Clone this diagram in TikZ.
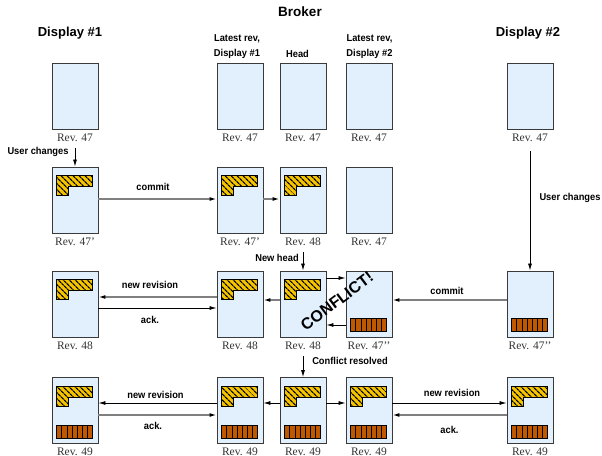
\documentclass[tikz,border=0pt]{standalone}
\usepackage{fontspec}
\setmainfont{Liberation Serif}
\setsansfont{Liberation Sans}
\newfontfamily\narrowsf[FakeStretch=0.93]{Liberation Sans}
\usetikzlibrary{arrows.meta,patterns.meta}

\definecolor{boxfill}{HTML}{E2EFFC}
\definecolor{boxline}{HTML}{3A3A3A}
\definecolor{hatchyellow}{HTML}{F5C400}
\definecolor{barorange}{HTML}{C05800}
\definecolor{linegray}{HTML}{808080}
\definecolor{revgray}{HTML}{333333}

\newcommand\lmark[1]{\begin{scope}[shift={(#1.north west)}]
  \draw[hatch] (5,9) -- (41,9) -- (41,20) -- (17,20) -- (17,29) -- (5,29) -- cycle;
\end{scope}}
\newcommand\orangebar[1]{\begin{scope}[shift={(#1.north west)}]
  \fill[barorange] (5,48) rectangle (41,61);
  \foreach \k in {1,...,6} \draw[black, line width=0.6pt] ({5+\k*36/7},48) -- ({5+\k*36/7},61);
  \draw[black, line width=0.7pt] (5,48) rectangle (41,61);
\end{scope}}

\begin{document}
\begin{tikzpicture}[x=1pt,y=-1pt,
  docbox/.style={draw=boxline, line width=0.9pt, fill=boxfill, minimum width=46pt, minimum height=66pt, inner sep=0pt},
  revlabel/.style={font=\fontsize{11.5}{12}\selectfont, text=revgray, anchor=base, inner sep=0pt},
  heading/.style={font=\sffamily\bfseries\fontsize{13}{15}\selectfont, anchor=base, inner sep=0pt},
  smalllabel/.style={font=\narrowsf\bfseries\fontsize{10}{15}\selectfont, anchor=base, inner sep=0pt, align=center},
  tip/.style={-{Latex[length=7pt,width=4pt,color=black]}},
  blackarrow/.style={tip, draw=black, line width=0.8pt},
  grayarrow/.style={tip, draw=linegray, line width=1.3pt},
  hatch/.style={draw=black, line width=0.6pt, preaction={fill=hatchyellow}, pattern={Lines[angle=-45,distance=4pt,line width=1.2pt]}},
]
\useasboundingbox (0,0) rectangle (602,455);

% headings
\node[heading, font=\sffamily\bfseries\fontsize{13.5}{15}\selectfont] (broker) at (300,16.7) {Broker};
\node[heading] (disp1) at (70,36) {Display \#1};
\node[heading] (disp2) at (528,36) {Display \#2};
\node[smalllabel, anchor=center] (lat1) at (237,47) {Latest rev,\\Display \#1};
\node[smalllabel] (headlbl) at (297.5,57) {Head};
\node[smalllabel, anchor=center] (lat2) at (369.5,47) {Latest rev,\\Display \#2};

% row 1
\node[docbox] (b11) at (75,96) {};
\node[docbox] (b12) at (240,96) {};
\node[docbox] (b13) at (303,96) {};
\node[docbox] (b14) at (369,96) {};
\node[docbox] (b15) at (530,96) {};
\node[revlabel] (l11) at ([yshift=-12pt]b11.south) {Rev. 47};
\node[revlabel] (l12) at ([yshift=-12pt]b12.south) {Rev. 47};
\node[revlabel] (l13) at ([yshift=-12pt]b13.south) {Rev. 47};
\node[revlabel] (l14) at ([yshift=-12pt]b14.south) {Rev. 47};
\node[revlabel] (l15) at ([yshift=-12pt]b15.south) {Rev. 47};

% row 2
\node[docbox] (b21) at (75,200) {};
\node[docbox] (b22) at (240,200) {};
\node[docbox] (b23) at (303,200) {};
\node[docbox] (b24) at (369,200) {};
\node[revlabel] (l21) at ([yshift=-12pt]b21.south) {Rev. 47'};
\node[revlabel] (l22) at ([yshift=-12pt]b22.south) {Rev. 47'};
\node[revlabel] (l23) at ([yshift=-12pt]b23.south) {Rev. 48};
\node[revlabel] (l24) at ([yshift=-12pt]b24.south) {Rev. 47};
\lmark{b21}\lmark{b22}\lmark{b23}

% row 3
\node[docbox] (b31) at (75,304) {};
\node[docbox] (b32) at (240,304) {};
\node[docbox] (b33) at (303,304) {};
\node[docbox] (b34) at (369,304) {};
\node[docbox] (b35) at (530,304) {};
\node[revlabel] (l31) at ([yshift=-12pt]b31.south) {Rev. 48};
\node[revlabel] (l32) at ([yshift=-12pt]b32.south) {Rev. 48};
\node[revlabel] (l33) at ([yshift=-12pt]b33.south) {Rev. 48};
\node[revlabel] (l34) at ([yshift=-12pt]b34.south) {Rev. 47'{}'};
\node[revlabel] (l35) at ([yshift=-12pt]b35.south) {Rev. 47'{}'};
\lmark{b31}\lmark{b32}\lmark{b33}
\orangebar{b34}\orangebar{b35}

% row 4
\node[docbox] (b41) at (75,410.5) {};
\node[docbox] (b42) at (240,410.5) {};
\node[docbox] (b43) at (303,410.5) {};
\node[docbox] (b44) at (369,410.5) {};
\node[docbox] (b45) at (530,410.5) {};
\node[revlabel] (l41) at ([yshift=-12pt]b41.south) {Rev. 49};
\node[revlabel] (l42) at ([yshift=-12pt]b42.south) {Rev. 49};
\node[revlabel] (l43) at ([yshift=-12pt]b43.south) {Rev. 49};
\node[revlabel] (l44) at ([yshift=-12pt]b44.south) {Rev. 49};
\node[revlabel] (l45) at ([yshift=-12pt]b45.south) {Rev. 49};
\lmark{b41}\lmark{b42}\lmark{b43}\lmark{b44}\lmark{b45}
\orangebar{b41}\orangebar{b42}\orangebar{b43}\orangebar{b44}\orangebar{b45}

% vertical arrows
\draw[blackarrow] ([yshift=-6pt]l11.south) -- (b21.north);
\node[smalllabel] (uc1) at (38,154.5) {User changes};
\draw[blackarrow] ([yshift=-9pt]l15.south) -- (b35.north);
\node[smalllabel] (uc2) at (570,200.6) {User changes};
\draw[blackarrow] ([yshift=-6.5pt]l23.south) -- (b33.north);
\node[smalllabel] (nh) at (277,261.5) {New head};
\draw[blackarrow] ([yshift=-6.5pt]l33.south) -- (b43.north);
\node[smalllabel] (cr) at (350,364.5) {Conflict resolved};

% row 2 arrows
\draw[grayarrow] ([yshift=1pt]b21.east) -- ([yshift=1pt]b22.west);
\node[smalllabel] (cm1) at (153,190) {commit};
\draw[grayarrow] ([yshift=1pt]b22.east) -- ([yshift=1pt]b23.west);

% row 3 arrows
\draw[grayarrow] ([yshift=7pt]b32.west) -- ([yshift=7pt]b31.east);
\node[smalllabel] (nr1) at (150,288) {new revision};
\draw[blackarrow] ([yshift=-4pt]b31.east) -- ([yshift=-4pt]b32.west);
\node[smalllabel] (ak1) at (150,323) {ack.};
\draw[grayarrow] ([yshift=4pt]b33.west) -- ([yshift=4pt]b32.east);
\draw[blackarrow] ([yshift=26pt]b33.east) -- ([yshift=26pt]b34.west);
\draw[blackarrow] ([yshift=-21pt]b34.west) -- ([yshift=-21pt]b33.east);
\draw[grayarrow] ([yshift=4pt]b35.west) -- ([yshift=4pt]b34.east);
\node[smalllabel] (cm2) at (447,294) {commit};

% row 4 arrows
\draw[blackarrow] ([yshift=7.5pt]b42.west) -- ([yshift=7.5pt]b41.east);
\node[smalllabel] (nr2) at (155.5,398) {new revision};
\draw[grayarrow] ([yshift=-4.5pt]b41.east) -- ([yshift=-4.5pt]b42.west);
\node[smalllabel] (ak2) at (153,429) {ack.};
\draw[blackarrow] ([yshift=7.5pt]b43.west) -- ([yshift=7.5pt]b42.east);
\draw[blackarrow] ([yshift=7.5pt]b43.east) -- ([yshift=7.5pt]b44.west);
\draw[blackarrow] ([yshift=7.5pt]b44.east) -- ([yshift=7.5pt]b45.west);
\node[smalllabel] (nr3) at (452,396) {new revision};
\draw[grayarrow] ([yshift=-4.5pt]b45.west) -- ([yshift=-4.5pt]b44.east);
\node[smalllabel] (ak3) at (449.5,433) {ack.};

% conflict
\node[font=\sffamily\bfseries\fontsize{16}{18}\selectfont, rotate=37, inner sep=0pt] (conflict) at (337,301) {CONFLICT!};
\end{tikzpicture}
\end{document}
